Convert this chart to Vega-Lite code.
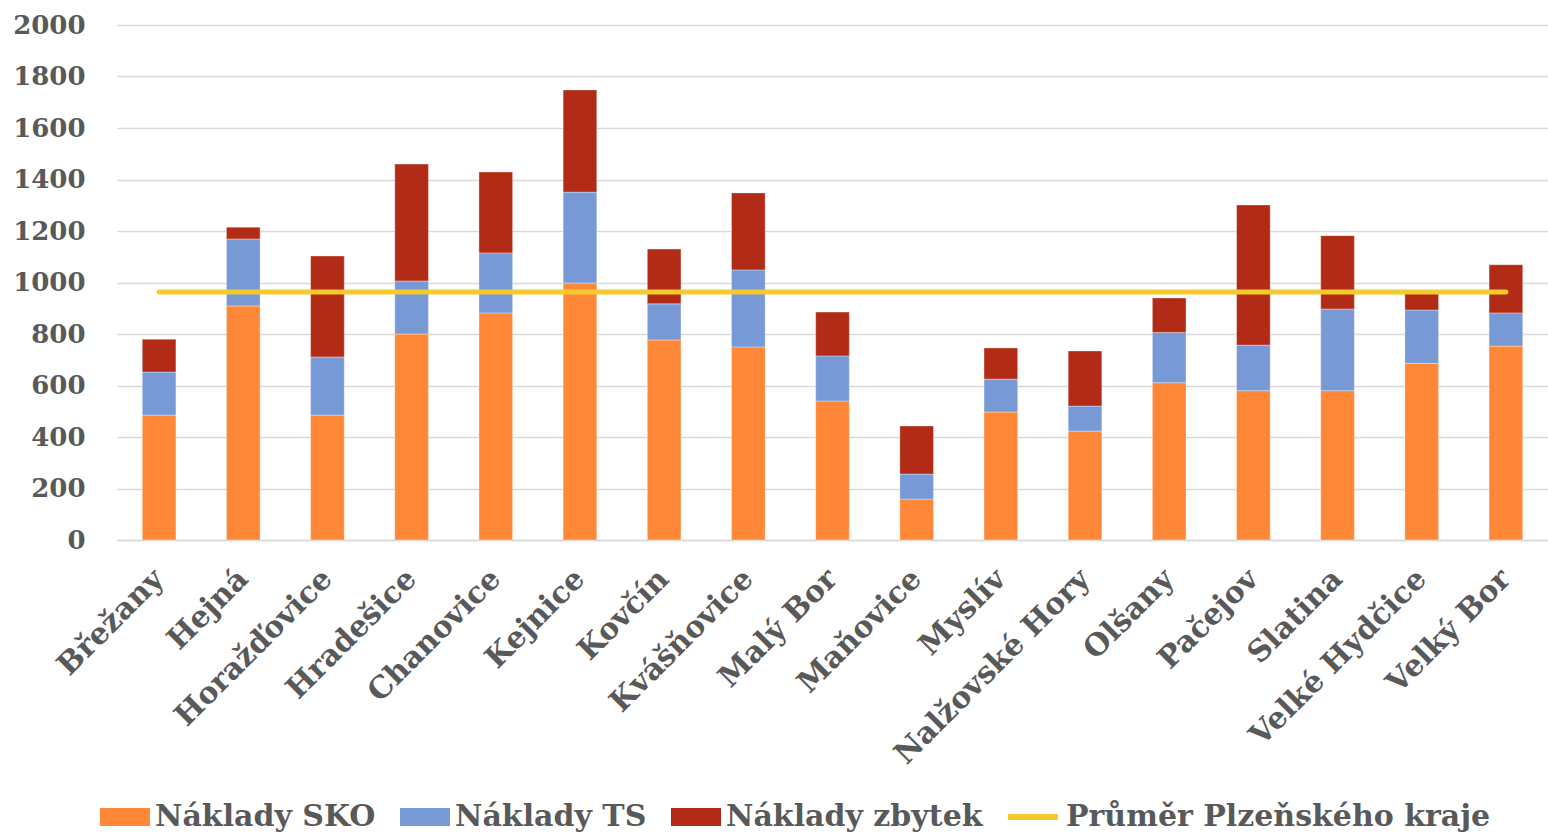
{
  "$schema": "https://vega.github.io/schema/vega-lite/v6.json",
  "width": 1431,
  "height": 515,
  "autosize": "none",
  "padding": {"left": 117, "top": 25, "right": 0, "bottom": 293},
  "background": "#ffffff",
  "config": {
    "view": {"stroke": null},
    "font": "DejaVu Serif",
    "axis": {"labelFont": "DejaVu Serif", "labelFontWeight": "bold", "labelColor": "#595959", "title": null},
    "legend": {"labelFont": "DejaVu Serif", "labelFontWeight": "bold", "labelColor": "#595959"}
  },
  "datasets": {
    "naklady": [
      {"obec": "Břežany", "serie": "Náklady SKO", "hodnota": 485},
      {"obec": "Břežany", "serie": "Náklady TS", "hodnota": 167},
      {"obec": "Břežany", "serie": "Náklady zbytek", "hodnota": 128},
      {"obec": "Hejná", "serie": "Náklady SKO", "hodnota": 909},
      {"obec": "Hejná", "serie": "Náklady TS", "hodnota": 260},
      {"obec": "Hejná", "serie": "Náklady zbytek", "hodnota": 46},
      {"obec": "Horažďovice", "serie": "Náklady SKO", "hodnota": 485},
      {"obec": "Horažďovice", "serie": "Náklady TS", "hodnota": 226},
      {"obec": "Horažďovice", "serie": "Náklady zbytek", "hodnota": 392},
      {"obec": "Hradešice", "serie": "Náklady SKO", "hodnota": 800},
      {"obec": "Hradešice", "serie": "Náklady TS", "hodnota": 206},
      {"obec": "Hradešice", "serie": "Náklady zbytek", "hodnota": 454},
      {"obec": "Chanovice", "serie": "Náklady SKO", "hodnota": 882},
      {"obec": "Chanovice", "serie": "Náklady TS", "hodnota": 233},
      {"obec": "Chanovice", "serie": "Náklady zbytek", "hodnota": 314},
      {"obec": "Kejnice", "serie": "Náklady SKO", "hodnota": 998},
      {"obec": "Kejnice", "serie": "Náklady TS", "hodnota": 353},
      {"obec": "Kejnice", "serie": "Náklady zbytek", "hodnota": 397},
      {"obec": "Kovčín", "serie": "Náklady SKO", "hodnota": 777},
      {"obec": "Kovčín", "serie": "Náklady TS", "hodnota": 140},
      {"obec": "Kovčín", "serie": "Náklady zbytek", "hodnota": 213},
      {"obec": "Kvášňovice", "serie": "Náklady SKO", "hodnota": 750},
      {"obec": "Kvášňovice", "serie": "Náklady TS", "hodnota": 299},
      {"obec": "Kvášňovice", "serie": "Náklady zbytek", "hodnota": 299},
      {"obec": "Malý Bor", "serie": "Náklady SKO", "hodnota": 540},
      {"obec": "Malý Bor", "serie": "Náklady TS", "hodnota": 175},
      {"obec": "Malý Bor", "serie": "Náklady zbytek", "hodnota": 170},
      {"obec": "Maňovice", "serie": "Náklady SKO", "hodnota": 159},
      {"obec": "Maňovice", "serie": "Náklady TS", "hodnota": 97},
      {"obec": "Maňovice", "serie": "Náklady zbytek", "hodnota": 187},
      {"obec": "Myslív", "serie": "Náklady SKO", "hodnota": 497},
      {"obec": "Myslív", "serie": "Náklady TS", "hodnota": 128},
      {"obec": "Myslív", "serie": "Náklady zbytek", "hodnota": 121},
      {"obec": "Nalžovské Hory", "serie": "Náklady SKO", "hodnota": 423},
      {"obec": "Nalžovské Hory", "serie": "Náklady TS", "hodnota": 97},
      {"obec": "Nalžovské Hory", "serie": "Náklady zbytek", "hodnota": 214},
      {"obec": "Olšany", "serie": "Náklady SKO", "hodnota": 611},
      {"obec": "Olšany", "serie": "Náklady TS", "hodnota": 195},
      {"obec": "Olšany", "serie": "Náklady zbytek", "hodnota": 134},
      {"obec": "Pačejov", "serie": "Náklady SKO", "hodnota": 580},
      {"obec": "Pačejov", "serie": "Náklady TS", "hodnota": 177},
      {"obec": "Pačejov", "serie": "Náklady zbytek", "hodnota": 544},
      {"obec": "Slatina", "serie": "Náklady SKO", "hodnota": 580},
      {"obec": "Slatina", "serie": "Náklady TS", "hodnota": 317},
      {"obec": "Slatina", "serie": "Náklady zbytek", "hodnota": 285},
      {"obec": "Velké Hydčice", "serie": "Náklady SKO", "hodnota": 686},
      {"obec": "Velké Hydčice", "serie": "Náklady TS", "hodnota": 207},
      {"obec": "Velké Hydčice", "serie": "Náklady zbytek", "hodnota": 72},
      {"obec": "Velký Bor", "serie": "Náklady SKO", "hodnota": 753},
      {"obec": "Velký Bor", "serie": "Náklady TS", "hodnota": 129},
      {"obec": "Velký Bor", "serie": "Náklady zbytek", "hodnota": 187}
    ],
    "prumer": [
      {"obec": "Břežany", "prumer": 963},
      {"obec": "Hejná", "prumer": 963},
      {"obec": "Horažďovice", "prumer": 963},
      {"obec": "Hradešice", "prumer": 963},
      {"obec": "Chanovice", "prumer": 963},
      {"obec": "Kejnice", "prumer": 963},
      {"obec": "Kovčín", "prumer": 963},
      {"obec": "Kvášňovice", "prumer": 963},
      {"obec": "Malý Bor", "prumer": 963},
      {"obec": "Maňovice", "prumer": 963},
      {"obec": "Myslív", "prumer": 963},
      {"obec": "Nalžovské Hory", "prumer": 963},
      {"obec": "Olšany", "prumer": 963},
      {"obec": "Pačejov", "prumer": 963},
      {"obec": "Slatina", "prumer": 963},
      {"obec": "Velké Hydčice", "prumer": 963},
      {"obec": "Velký Bor", "prumer": 963}
    ]
  },
  "layer": [
    {
      "data": {"name": "naklady"},
      "mark": {"type": "bar", "stroke": "#ffffff", "strokeOpacity": 0.5, "strokeWidth": 0.7},
      "encoding": {
        "x": {
          "field": "obec",
          "type": "nominal",
          "sort": null,
          "scale": {
            "domain": ["Břežany", "Hejná", "Horažďovice", "Hradešice", "Chanovice", "Kejnice", "Kovčín", "Kvášňovice", "Malý Bor", "Maňovice", "Myslív", "Nalžovské Hory", "Olšany", "Pačejov", "Slatina", "Velké Hydčice", "Velký Bor"],
            "paddingInner": 0.6,
            "paddingOuter": 0.3
          },
          "axis": {
            "labelAngle": -45,
            "labelAlign": "right",
            "labelBaseline": "middle",
            "labelFontSize": 30,
            "labelPadding": 34,
            "labelLimit": 400,
            "ticks": false,
            "domain": true,
            "domainColor": "#d9d9d9",
            "domainWidth": 1.5,
            "grid": false
          }
        },
        "y": {
          "field": "hodnota",
          "type": "quantitative",
          "aggregate": "sum",
          "stack": "zero",
          "scale": {"domain": [0, 2000], "nice": false},
          "axis": {
            "values": [0, 200, 400, 600, 800, 1000, 1200, 1400, 1600, 1800, 2000],
            "format": "d",
            "labelFontSize": 26,
            "labelPadding": 32,
            "ticks": false,
            "domain": false,
            "grid": true,
            "gridColor": "#d9d9d9",
            "gridWidth": 1.5
          }
        },
        "order": {"field": "serie", "sort": "ascending"},
        "color": {
          "field": "serie",
          "type": "nominal",
          "scale": {
            "domain": ["Náklady SKO", "Náklady TS", "Náklady zbytek"],
            "range": ["#ff8838", "#779ad7", "#b22b17"]
          },
          "legend": {
            "title": null,
            "orient": "none",
            "direction": "horizontal",
            "columns": 3,
            "legendX": -17,
            "legendY": 767,
            "padding": 0,
            "symbolType": "M-1,-0.36H1V0.36H-1Z",
            "symbolSize": 2500,
            "symbolStrokeWidth": 0,
            "labelFontSize": 30,
            "labelOffset": 5,
            "columnPadding": 24,
            "labelLimit": 600
          }
        }
      }
    },
    {
      "data": {"name": "prumer"},
      "mark": {"type": "line", "strokeWidth": 5, "strokeCap": "round"},
      "encoding": {
        "x": {"field": "obec", "type": "nominal", "sort": null},
        "y": {"field": "prumer", "type": "quantitative"},
        "stroke": {
          "datum": "Průměr Plzeňského kraje",
          "type": "nominal",
          "scale": {"domain": ["Průměr Plzeňského kraje"], "range": ["#f5ca2c"]},
          "legend": {
            "title": null,
            "orient": "none",
            "legendX": 888,
            "legendY": 764,
            "padding": 0,
            "symbolType": "M-1,0H1",
            "symbolSize": 2500,
            "symbolStrokeWidth": 6,
            "symbolStrokeColor": "#f5ca2c",
            "labelFontSize": 30,
            "labelOffset": 5,
            "labelLimit": 600
          }
        }
      }
    }
  ]
}
